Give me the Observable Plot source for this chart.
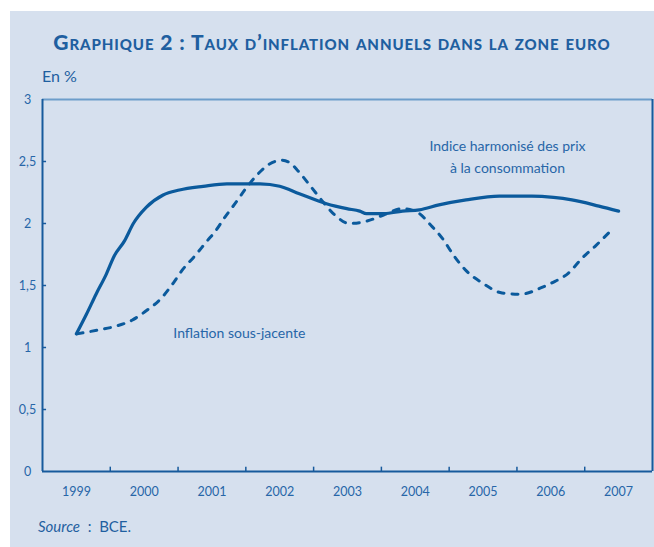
<!DOCTYPE html>
<html>
<head>
<meta charset="utf-8">
<script src="https://cdn.jsdelivr.net/npm/d3@7"></script>
<script src="https://cdn.jsdelivr.net/npm/@observablehq/plot@0.6"></script>
<style>
  html, body { margin: 0; padding: 0; background: #ffffff; }
  body { width: 654px; height: 547px; position: relative; overflow: hidden; font-family: Lato, "Open Sans", sans-serif; }
  #panel { position: absolute; left: 10px; top: 11px; width: 644px; height: 536px; background: #d6e0ee; }
  #title { position: absolute; left: 10px; width: 644px; top: 29px; text-align: center; font-weight: 900; font-variant: small-caps; font-size: 21px; color: #1f5fa0; letter-spacing: 0.9px; white-space: nowrap; }
  #unit { position: absolute; left: 42px; top: 66px; font-size: 16px; color: #1f5fa0; }
  #chart { position: absolute; left: 0; top: 80px; }
  #source { position: absolute; left: 38px; top: 517px; font-size: 15px; color: #1f5fa0; }
  #source i { font-style: italic; }
</style>
</head>
<body>
<div id="panel"></div>
<div id="title">Graphique 2 : Taux d’inflation annuels dans la zone euro</div>
<div id="unit">En %</div>
<div id="chart"></div>
<div id="source"><i>Source</i>&nbsp; :&nbsp; BCE.</div>
<script>
// Year labels on the x axis
const years = [1999, 2000, 2001, 2002, 2003, 2004, 2005, 2006, 2007];
// y tick values
const yTicks = [0, 0.5, 1, 1.5, 2, 2.5, 3];

// Indice harmonisé des prix à la consommation (solid line)
const hicpT = [1999.00, 1999.15, 1999.29, 1999.44, 1999.56, 1999.71, 1999.84, 2000.03, 2000.28, 2000.52,
               2000.87, 2001.22, 2001.71, 2002.00, 2002.29, 2002.69, 2002.99, 2003.18,
               2003.28, 2003.54, 2003.81, 2004.06, 2004.35, 2004.75, 2005.24, 2005.72, 2006.04, 2006.31,
               2006.71, 2007.00];
const hicpV = [1.11, 1.27, 1.43, 1.59, 1.74, 1.86, 2.00, 2.13, 2.23, 2.27,
               2.30, 2.32, 2.32, 2.30, 2.24, 2.16, 2.12, 2.10,
               2.08, 2.08, 2.10, 2.11, 2.15, 2.19, 2.22, 2.22, 2.21, 2.19,
               2.14, 2.10];

// Inflation sous-jacente (dashed line)
const coreT = [1999.01, 1999.31, 1999.57, 1999.82, 2000.04, 2000.24, 2000.43, 2000.57, 2000.75, 2000.93,
               2001.04, 2001.19, 2001.34, 2001.51, 2001.68, 2001.85, 2002.03, 2002.15, 2002.26, 2002.47,
               2002.63, 2002.81, 2003.03, 2003.29, 2003.54, 2003.81, 2004.03, 2004.24, 2004.40, 2004.57,
               2004.75, 2004.99, 2005.28, 2005.56, 2005.85, 2006.01, 2006.26, 2006.46, 2006.66, 2006.90];
const coreV = [1.11, 1.14, 1.17, 1.22, 1.30, 1.39, 1.52, 1.63, 1.74, 1.86,
               1.93, 2.05, 2.16, 2.29, 2.40, 2.48, 2.51, 2.49, 2.43, 2.29,
               2.18, 2.07, 2.00, 2.02, 2.07, 2.12, 2.09, 1.98, 1.88, 1.74,
               1.62, 1.52, 1.44, 1.43, 1.48, 1.52, 1.60, 1.72, 1.82, 1.95];

const hicp = hicpT.map((t, i) => ({t, v: hicpV[i]}));
const core = coreT.map((t, i) => ({t, v: coreV[i]}));

const dark = "#175a9c";
const lineColor = "#0b5a9c";
const textColor = "#2766a8";
const x0 = years[0] - 0.5, x1 = years[years.length - 1] + 0.5;

const chart = Plot.plot({
  width: 654,
  height: 430,
  marginTop: 19,
  marginBottom: 39,
  marginLeft: 42,
  marginRight: 2,
  style: { background: "transparent", fontFamily: "Lato, sans-serif", color: textColor, overflow: "visible" },
  x: { domain: [x0, x1] },
  y: { domain: [yTicks[0], yTicks[yTicks.length - 1]] },
  marks: [
    Plot.ruleY([yTicks[yTicks.length - 1]], { stroke: "#6d9dca", strokeWidth: 2 }),
    Plot.ruleX([x1], { stroke: dark, strokeWidth: 2 }),
    Plot.ruleX(years.slice(0, -1).map(y => y + 0.5), { y1: 0, y2: 0.035, stroke: dark, strokeWidth: 1.5 }),
    Plot.ruleY(yTicks.slice(1, -1), { x1: x0, x2: x0 + 0.06, stroke: dark, strokeWidth: 1.5 }),
    Plot.axisX({ ticks: years, tickFormat: d => String(d), tickSize: 0, tickPadding: 16, fontSize: 12.5, label: null, fill: textColor }),
    Plot.axisY({ ticks: yTicks, tickFormat: d => String(d).replace(".", ","), tickSize: 0, tickPadding: 15, textAnchor: "middle", fontSize: 12.5, label: null, fill: textColor }),
    Plot.ruleX([x0], { stroke: dark, strokeWidth: 2 }),
    Plot.ruleY([0], { stroke: dark, strokeWidth: 2 }),
    Plot.line(core, { x: "t", y: "v", stroke: lineColor, strokeWidth: 3, strokeDasharray: "6,8", curve: "monotone-x" }),
    Plot.line(hicp, { x: "t", y: "v", stroke: lineColor, strokeWidth: 3.2, curve: "monotone-x" }),
    Plot.text(["Inflation sous-jacente"], { x: 2000.43, y: 1.11, text: d => d, textAnchor: "start", fontSize: 14, fill: textColor }),
    Plot.text(["Indice harmonisé des prix\nà la consommation"], { x: 2005.36, y: 2.556, text: d => d, textAnchor: "middle", lineHeight: 1.57, fontSize: 14, fill: textColor })
  ]
});
document.getElementById("chart").appendChild(chart);
</script>
</body>
</html>
